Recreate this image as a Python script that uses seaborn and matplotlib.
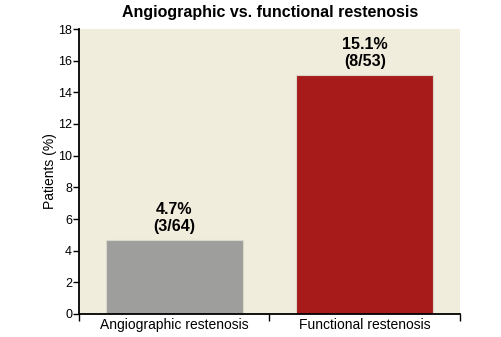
import matplotlib
matplotlib.use("Agg")
import matplotlib.pyplot as plt
import seaborn as sns
import pandas as pd

categories = ["Angiographic restenosis", "Functional restenosis"]
values = [4.7, 15.1]
labels = ["4.7%\n(3/64)", "15.1%\n(8/53)"]
colors = ["#9E9E9C", "#A81B1B"]
yticks = [0, 2, 4, 6, 8, 10, 12, 14, 16, 18]

sns.set_style("white")
plt.rcParams["font.family"] = ["Liberation Sans", "DejaVu Sans"]
plt.rcParams["text.color"] = "black"
plt.rcParams["axes.labelcolor"] = "black"
plt.rcParams["xtick.color"] = "black"
plt.rcParams["ytick.color"] = "black"

df = pd.DataFrame({"cat": categories, "val": values})

fig = plt.figure(figsize=(5.02, 3.37), dpi=100)
ax = fig.add_axes([79/502, 23/337, 381/502, 285/337])
ax.set_facecolor("#F1EDDC")
sns.barplot(data=df, x="cat", y="val", hue="cat", palette=colors, width=0.72,
            ax=ax, legend=False, edgecolor="none", saturation=1)
for p in ax.patches:
    p.set_edgecolor("#D9D6CC")
    p.set_linewidth(0.8)

ax.set_ylim(0, 18)
ax.set_xlim(-0.5, 1.5)
ax.set_yticks(yticks)
ax.set_yticklabels([str(t) for t in yticks], fontsize=9)
ax.set_xlabel("")
ax.set_ylabel("Patients (%)", fontsize=10, labelpad=1)
ax.tick_params(axis="y", length=4, width=1, direction="out", left=True, pad=1)
ax.set_xticks([0, 1])
ax.set_xticklabels(categories, fontsize=10)
ax.tick_params(axis="x", length=0, pad=3)
ax.set_xticks([-0.5, 0.5, 1.5], minor=True)
ax.tick_params(axis="x", which="minor", length=5, width=1, direction="out", bottom=True)

for s in ["top", "right"]:
    ax.spines[s].set_visible(False)
for s in ["left", "bottom"]:
    ax.spines[s].set_color("black")
    ax.spines[s].set_linewidth(1.3)

for i, (v, lab) in enumerate(zip(values, labels)):
    ax.annotate(lab, (i, v), xytext=(0, 4), textcoords="offset points",
                ha="center", va="bottom", fontsize=11.5, fontweight="bold",
                linespacing=1.2)

fig.text(270/502, 1 - 13/337, "Angiographic vs. functional restenosis",
         ha="center", va="center", fontsize=11.5, fontweight="bold")

fig.savefig("out.png", dpi=100)
